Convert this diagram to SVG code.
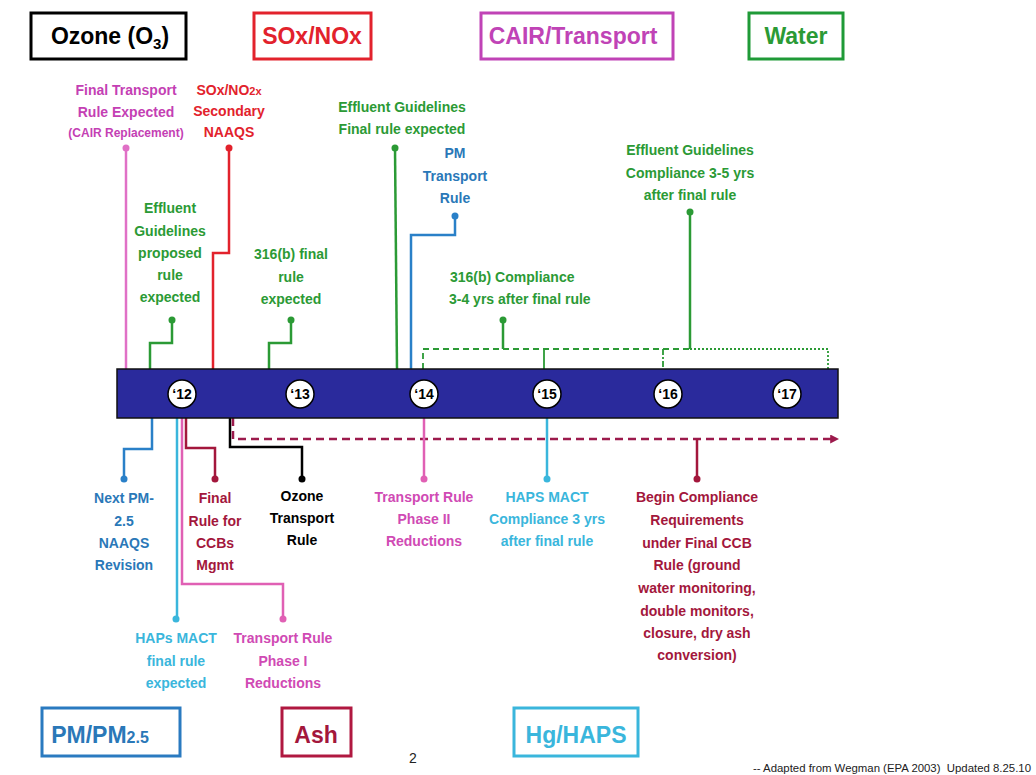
<svg xmlns="http://www.w3.org/2000/svg" width="1036" height="775" viewBox="0 0 1036 775">
<defs>
<style>
text{font-family:"Liberation Sans",Arial,sans-serif;font-weight:bold;}
.lg{font-size:23px;text-anchor:middle;}
.lb{font-size:14px;text-anchor:middle;}
.box{fill:#fff;stroke-width:3;}
.ln{fill:none;stroke-width:2.5;}
.yr{fill:#fff;stroke:#000;stroke-width:1.5;}
.yt{font-size:14px;text-anchor:middle;fill:#000;}
.pink{fill:#c43fb4;} .red{fill:#e2222c;} .grn{fill:#2b9a35;} .blu{fill:#2a78b8;} .cyn{fill:#3ab6dc;} .drd{fill:#a3173c;} .blk{fill:#000;}
</style>
<marker id="arr" viewBox="0 0 10 10" refX="2" refY="5" markerWidth="3.6" markerHeight="3.6" orient="auto">
<path d="M0,0 L10,5 L0,10 z" fill="#9c1a4c"/>
</marker>
</defs>
<rect width="1036" height="775" fill="#fff"/>

<!-- legend -->
<g id="legend-ozone"><rect class="box" x="31" y="13" width="155" height="46" stroke="#000"/><text class="lg blk" x="110" y="44">Ozone (O<tspan font-size="15" dy="5">3</tspan><tspan dy="-5">)</tspan></text></g>
<g id="legend-sox"><rect class="box" x="254" y="13" width="117" height="46" stroke="#e2222c"/><text class="lg red" x="312" y="44">SOx/NOx</text></g>
<g id="legend-cair"><rect class="box" x="481" y="13" width="192" height="46" stroke="#c043b6"/><text class="lg" fill="#c043b6" x="573" y="44">CAIR/Transport</text></g>
<g id="legend-water"><rect class="box" x="749" y="13" width="94" height="46" stroke="#1f9a37"/><text class="lg grn" x="796" y="44">Water</text></g>
<g id="legend-pm"><rect class="box" x="42" y="708" width="138" height="48" stroke="#2a7ac0"/><text class="lg blu" x="100" y="743">PM/PM<tspan font-size="16">2.5</tspan></text></g>
<g id="legend-ash"><rect class="box" x="282" y="708" width="69" height="48" stroke="#b01840"/><text class="lg drd" x="316" y="743">Ash</text></g>
<g id="legend-hg"><rect class="box" x="514" y="708" width="124" height="48" stroke="#3ab6dc"/><text class="lg cyn" x="576" y="743">Hg/HAPS</text></g>

<!-- connectors -->
<g id="connectors">
<!-- top -->
<polyline class="ln" stroke="#e070c6" points="126,148 126,369"/>
<polyline class="ln" stroke="#e2222c" points="229,148 229,253 213,253 213,369"/>
<polyline class="ln" stroke="#2b9a35" points="395,148 397,369"/>
<polyline class="ln" stroke="#2a80c8" points="455,216 455,235 411,235 411,369"/>
<polyline class="ln" stroke="#2b9a35" points="172,320 172,343 150,343 150,369"/>
<polyline class="ln" stroke="#2b9a35" points="291,320 291,343 269,343 269,369"/>
<polyline class="ln" stroke="#2b9a35" points="503,320 503,349"/>
<polyline class="ln" stroke="#2b9a35" points="690,212 690,349"/>
<g stroke="#2b9a35" stroke-width="1.8" fill="none">
<path d="M423,369 V349 H690" stroke-dasharray="6,4"/>
<path d="M690,349 H828 V369" stroke-dasharray="2,2"/>
<path d="M544,349 V369"/>
<path d="M663,349 V369" stroke-dasharray="6,2,2,2"/>
</g>
<!-- bottom -->
<polyline class="ln" stroke="#2a80c8" points="152,418 152,449 124,449 124,479"/>
<polyline class="ln" stroke="#3ab6dc" points="177,418 177,619"/>
<polyline class="ln" stroke="#e060b4" points="182,418 182,584 283,584 283,619"/>
<polyline class="ln" stroke="#a3173c" points="186,418 186,448 215,448 215,479"/>
<polyline class="ln" stroke="#000" points="230,418 230,447 302,447 302,479"/>
<path d="M233,418 V439 H832" fill="none" stroke="#9c1a4c" stroke-width="2.5" stroke-dasharray="8,5" marker-end="url(#arr)"/>
<polyline class="ln" stroke="#a3173c" points="697,439 697,479"/>
<polyline class="ln" stroke="#e060b4" points="424,418 424,479"/>
<polyline class="ln" stroke="#3ab6dc" points="547,418 547,479"/>
<!-- dots -->
<circle cx="126" cy="148" r="3.5" fill="#e070c6"/>
<circle cx="229" cy="148" r="3.5" fill="#e2222c"/>
<circle cx="395" cy="148" r="3.5" fill="#2b9a35"/>
<circle cx="455" cy="216" r="3.5" fill="#2a80c8"/>
<circle cx="172" cy="320" r="3.5" fill="#2b9a35"/>
<circle cx="291" cy="320" r="3.5" fill="#2b9a35"/>
<circle cx="503" cy="320" r="3.5" fill="#2b9a35"/>
<circle cx="690" cy="212" r="3.5" fill="#2b9a35"/>
<circle cx="124" cy="479" r="3.5" fill="#2a80c8"/>
<circle cx="176" cy="619" r="3.5" fill="#3ab6dc"/>
<circle cx="283" cy="619" r="3.5" fill="#e060b4"/>
<circle cx="215" cy="479" r="3.5" fill="#a3173c"/>
<circle cx="302" cy="479" r="3.5" fill="#000"/>
<circle cx="697" cy="479" r="3.5" fill="#a3173c"/>
<circle cx="424" cy="479" r="3.5" fill="#e060b4"/>
<circle cx="547" cy="479" r="3.5" fill="#3ab6dc"/>
</g>

<!-- timeline -->
<g id="timeline">
<rect x="117" y="369" width="721" height="49" fill="#2a2a9c" stroke="#111" stroke-width="1.5"/>
<circle class="yr" cx="182" cy="394" r="14"/><text class="yt" x="182" y="399">‘12</text>
<circle class="yr" cx="300" cy="394" r="14"/><text class="yt" x="300" y="399">‘13</text>
<circle class="yr" cx="424" cy="394" r="14"/><text class="yt" x="424" y="399">‘14</text>
<circle class="yr" cx="547" cy="394" r="14"/><text class="yt" x="547" y="399">‘15</text>
<circle class="yr" cx="668" cy="394" r="14"/><text class="yt" x="668" y="399">‘16</text>
<circle class="yr" cx="787" cy="394" r="14"/><text class="yt" x="787" y="399">‘17</text>
</g>

<!-- top labels -->
<g id="n-final-transport"><text class="lb pink" x="126"><tspan x="126" y="95">Final Transport</tspan><tspan x="126" y="117">Rule Expected</tspan><tspan x="126" y="137" font-size="12">(CAIR Replacement)</tspan></text></g>
<g id="n-sox-naaqs"><text class="lb red" x="229"><tspan x="229" y="95">SOx/NO<tspan font-size="11">2x</tspan></tspan><tspan x="229" y="116">Secondary</tspan><tspan x="229" y="137">NAAQS</tspan></text></g>
<g id="n-effluent-final"><text class="lb grn"><tspan x="402" y="112">Effluent Guidelines</tspan><tspan x="402" y="134">Final rule expected</tspan></text></g>
<g id="n-pm-transport"><text class="lb blu"><tspan x="455" y="158">PM</tspan><tspan x="455" y="181">Transport</tspan><tspan x="455" y="203">Rule</tspan></text></g>
<g id="n-effluent-proposed"><text class="lb grn"><tspan x="170" y="213">Effluent</tspan><tspan x="170" y="236">Guidelines</tspan><tspan x="170" y="258">proposed</tspan><tspan x="170" y="280">rule</tspan><tspan x="170" y="302">expected</tspan></text></g>
<g id="n-316b-final"><text class="lb grn"><tspan x="291" y="259">316(b) final</tspan><tspan x="291" y="282">rule</tspan><tspan x="291" y="304">expected</tspan></text></g>
<g id="n-316b-compliance"><text class="lb grn" style="text-anchor:start"><tspan x="450" y="282">316(b) Compliance</tspan><tspan x="449" y="304">3-4 yrs after final rule</tspan></text></g>
<g id="n-effluent-compliance"><text class="lb grn"><tspan x="690" y="155">Effluent Guidelines</tspan><tspan x="690" y="178">Compliance 3-5 yrs</tspan><tspan x="690" y="200">after final rule</tspan></text></g>

<!-- bottom labels -->
<g id="n-next-pm"><text class="lb blu"><tspan x="124" y="503">Next PM-</tspan><tspan x="124" y="526">2.5</tspan><tspan x="124" y="548">NAAQS</tspan><tspan x="124" y="570">Revision</tspan></text></g>
<g id="n-ccb-rule"><text class="lb drd"><tspan x="215" y="503">Final</tspan><tspan x="215" y="526">Rule for</tspan><tspan x="215" y="548">CCBs</tspan><tspan x="215" y="570">Mgmt</tspan></text></g>
<g id="n-ozone-transport"><text class="lb blk"><tspan x="302" y="501">Ozone</tspan><tspan x="302" y="523">Transport</tspan><tspan x="302" y="545">Rule</tspan></text></g>
<g id="n-transport-phase2"><text class="lb" fill="#d04ab4"><tspan x="424" y="502">Transport Rule</tspan><tspan x="424" y="524">Phase II</tspan><tspan x="424" y="546">Reductions</tspan></text></g>
<g id="n-haps-compliance"><text class="lb cyn"><tspan x="547" y="502">HAPS MACT</tspan><tspan x="547" y="524">Compliance 3 yrs</tspan><tspan x="547" y="546">after final rule</tspan></text></g>
<g id="n-begin-compliance"><text class="lb drd"><tspan x="697" y="502">Begin Compliance</tspan><tspan x="697" y="525">Requirements</tspan><tspan x="697" y="548">under Final CCB</tspan><tspan x="697" y="570">Rule (ground</tspan><tspan x="697" y="593">water monitoring,</tspan><tspan x="697" y="616">double monitors,</tspan><tspan x="697" y="638">closure, dry ash</tspan><tspan x="697" y="660">conversion)</tspan></text></g>
<g id="n-haps-final"><text class="lb cyn"><tspan x="176" y="643">HAPs MACT</tspan><tspan x="176" y="666">final rule</tspan><tspan x="176" y="688">expected</tspan></text></g>
<g id="n-transport-phase1"><text class="lb" fill="#d04ab4"><tspan x="283" y="643">Transport Rule</tspan><tspan x="283" y="666">Phase I</tspan><tspan x="283" y="688">Reductions</tspan></text></g>

<!-- footer -->
<text x="413" y="763" font-size="14" style="font-weight:normal" text-anchor="middle" fill="#222">2</text>
<text x="1031" y="772" font-size="11" style="font-weight:normal;white-space:pre" text-anchor="end" fill="#222" textLength="278" lengthAdjust="spacingAndGlyphs">-- Adapted from Wegman (EPA 2003)  Updated 8.25.10</text>
</svg>
